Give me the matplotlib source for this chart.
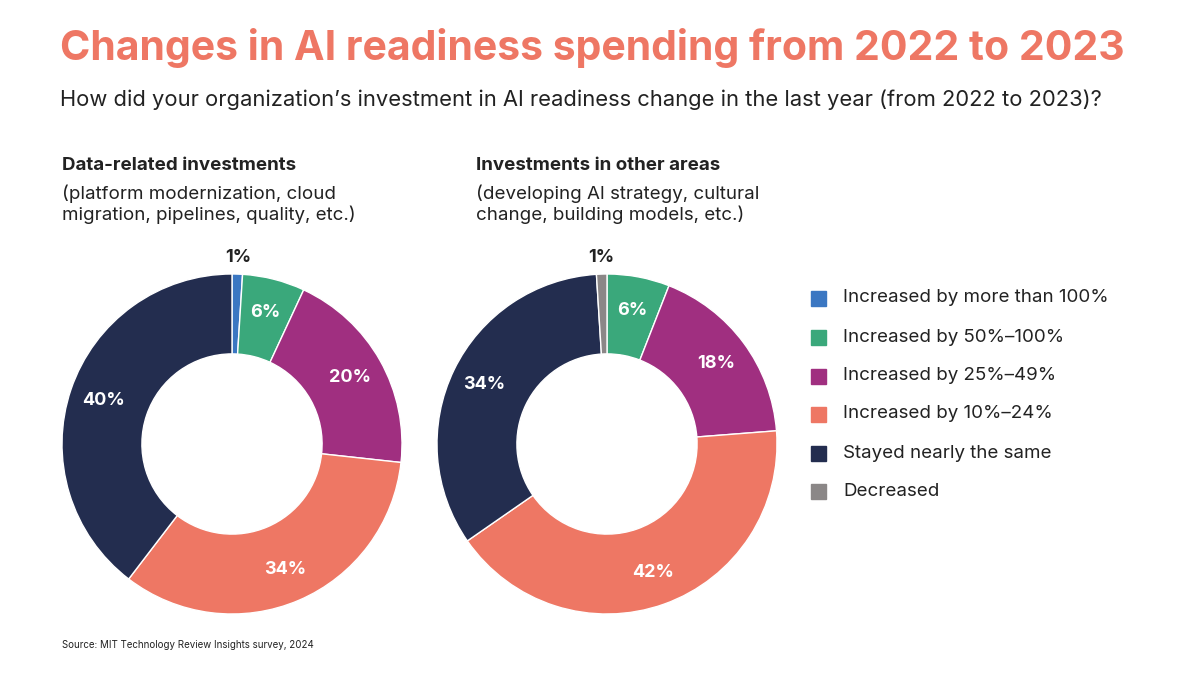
import numpy as np
import matplotlib.pyplot as plt
from matplotlib.patches import Rectangle

plt.rcParams['font.family'] = ['Inter', 'DejaVu Sans']

categories = ["Increased by more than 100%", "Increased by 50%\u2013100%", "Increased by 25%\u201349%",
              "Increased by 10%\u201324%", "Stayed nearly the same", "Decreased"]
colors = ["#3b77c2", "#3aa87b", "#a02f80", "#ee7764", "#232d4f", "#8b8787"]
data_vals = [1, 6, 20, 34, 40, 0]
other_vals = [0, 6, 18, 42, 34, 1]

fig = plt.figure(figsize=(12, 6.75), dpi=100)
W, H = 1200, 675

fig.text(60/W, 1-48/H, "Changes in AI readiness spending from 2022 to 2023", color="#ee7764",
         fontsize=29.5, fontweight="bold", va="center")
fig.text(60/W, 1-100/H, "How did your organization\u2019s investment in AI readiness change in the last year (from 2022 to 2023)?",
         fontsize=15.8, color="#222222", va="center")

def donut(cx, cy, vals, tx, title, sub):
    R = 170
    ax = fig.add_axes([(cx-R)/W, (H-cy-R)/H, 2*R/W, 2*R/H])
    idx = [i for i, v in enumerate(vals) if v > 0]
    v = [vals[i] for i in idx]
    c = [colors[i] for i in idx]
    wedges, _ = ax.pie(v, colors=c, startangle=90, counterclock=False,
                       wedgeprops=dict(width=0.47, edgecolor="white", linewidth=1))
    for w, val in zip(wedges, v):
        ang = np.deg2rad((w.theta1 + w.theta2) / 2)
        if val <= 1:
            r = 1.1
            ax.text(r*np.cos(ang), r*np.sin(ang), f"{val}%", ha="center", va="center",
                    fontsize=13, fontweight="bold", color="#222222")
        else:
            r = 0.8
            ax.text(r*np.cos(ang), r*np.sin(ang), f"{val}%", ha="center", va="center",
                    fontsize=13, fontweight="bold", color="white")
    ax.set_xlim(-1, 1); ax.set_ylim(-1, 1)
    ax.set_aspect("equal")
    ax.axis("off")
    fig.text(tx/W, 1-165/H, title, fontsize=13.5, fontweight="bold", va="center", color="#222222")
    fig.text(tx/W, 1-204/H, sub, fontsize=13.5, va="center", color="#222222", linespacing=1.2)

donut(232, 444, data_vals, 62, "Data-related investments",
      "(platform modernization, cloud\nmigration, pipelines, quality, etc.)")
donut(607, 444, other_vals, 476, "Investments in other areas",
      "(developing AI strategy, cultural\nchange, building models, etc.)")

ys = [298, 337, 376, 414, 453, 491]
for cat, col, y in zip(categories, colors, ys):
    fig.patches.append(Rectangle((811/W, 1-(y+8)/H), 15/W, 15/H, transform=fig.transFigure,
                                 color=col, figure=fig))
    fig.text(843/W, 1-y/H, cat, fontsize=13.5, va="center", color="#222222")

fig.text(62/W, 1-645/H, "Source: MIT Technology Review Insights survey, 2024", fontsize=7, va="center", color="#222222")

fig.savefig("out.png", dpi=100)
